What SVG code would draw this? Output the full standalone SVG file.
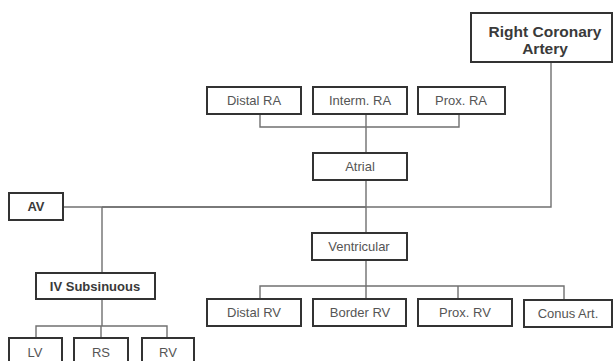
<svg xmlns="http://www.w3.org/2000/svg" width="614" height="361" viewBox="0 0 614 361">
<style>
rect{fill:#fff;stroke:#333;stroke-width:2}
text{font-family:"Liberation Sans",Arial,sans-serif;font-size:13px;fill:#555;text-anchor:middle}
.b{font-weight:bold;fill:#3a3a3a}
.c path{fill:none;stroke:#707070;stroke-width:1.4}
</style>
<rect x="0" y="0" width="614" height="361" style="fill:#fff;stroke:none"/>
<g class="c" id="connectors">
<path d="M551 62V207H102"/>
<path d="M366 114V153M366 180V233M366 260V286"/>
<path d="M260 114V127H459V114"/>
<path d="M63 207H366"/>
<path d="M102 207V273M102 299V326"/>
<path d="M36 338V326H167V338M101 326V338"/>
<path d="M260 299V286H564V300M366 286V299M458 286V299"/>
</g>
<g id="rca"><rect x="471" y="13" width="141" height="49"/><text class="b" x="545" y="37" style="font-size:15.5px">Right Coronary</text><text class="b" x="545" y="54" style="font-size:15.5px">Artery</text></g>
<g id="distal-ra"><rect x="207" y="87" width="94" height="27"/><text x="254" y="105">Distal RA</text></g>
<g id="interm-ra"><rect x="313" y="87" width="94" height="27"/><text x="360" y="105">Interm. RA</text></g>
<g id="prox-ra"><rect x="418" y="87" width="87" height="27"/><text x="461" y="105">Prox. RA</text></g>
<g id="atrial"><rect x="313" y="153" width="94" height="27"/><text x="360" y="171">Atrial</text></g>
<g id="av"><rect x="9" y="193" width="54" height="27"/><text class="b" x="36" y="211">AV</text></g>
<g id="ventricular"><rect x="312" y="233" width="95" height="27"/><text x="359" y="251">Ventricular</text></g>
<g id="iv-subsinuous"><rect x="36" y="273" width="119" height="26"/><text class="b" x="95" y="291">IV Subsinuous</text></g>
<g id="distal-rv"><rect x="207" y="299" width="94" height="27"/><text x="254" y="317">Distal RV</text></g>
<g id="border-rv"><rect x="313" y="299" width="93" height="27"/><text x="360" y="317">Border RV</text></g>
<g id="prox-rv"><rect x="418" y="299" width="94" height="27"/><text x="465" y="317">Prox. RV</text></g>
<g id="conus-art"><rect x="524" y="300" width="88" height="27"/><text x="568" y="318">Conus Art.</text></g>
<g id="lv"><rect x="9" y="338" width="53" height="28"/><text x="35" y="357">LV</text></g>
<g id="rs"><rect x="74" y="338" width="54" height="28"/><text x="101" y="357">RS</text></g>
<g id="rv"><rect x="142" y="338" width="52" height="28"/><text x="168" y="357">RV</text></g>
</svg>
